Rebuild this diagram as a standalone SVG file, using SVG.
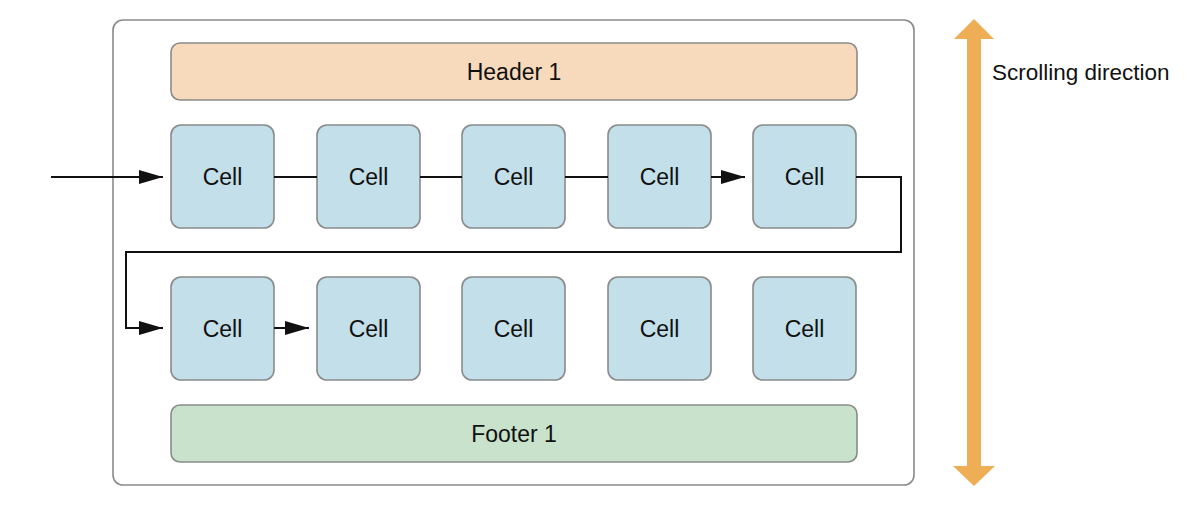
<svg xmlns="http://www.w3.org/2000/svg" width="1202" height="508" viewBox="0 0 1202 508">
<style>
.box{stroke:#8a8a8a;stroke-width:1.6}
.cell{fill:#c2dfea}
.t{font-family:"Liberation Sans",Arial,sans-serif;font-size:23px;fill:#111;text-anchor:middle;dominant-baseline:central}
.c{fill:none;stroke:#111;stroke-width:2}
</style>
<defs>
<marker id="ah" viewBox="0 0 24 14" refX="24" refY="7" markerWidth="24" markerHeight="14" markerUnits="userSpaceOnUse" orient="auto">
<path d="M0,0 L24,7 L0,14 Z" fill="#111"/>
</marker>
</defs>
<g id="container"><rect x="113" y="20" width="801" height="465" rx="10" fill="#fff" class="box" stroke-width="2"/></g>
<g id="header"><rect x="171" y="43" width="686" height="57" rx="9" fill="#f7d9bb" class="box"/><text class="t" x="514" y="72">Header 1</text></g>
<g id="footer"><rect x="171" y="405" width="686" height="57" rx="9" fill="#c8e2cb" class="box"/><text class="t" x="514" y="434">Footer 1</text></g>
<g id="cell1"><rect x="171" y="125" width="103" height="103" rx="10" class="cell box"/><text class="t" x="222.5" y="176.5">Cell</text></g>
<g id="cell2"><rect x="317" y="125" width="103" height="103" rx="10" class="cell box"/><text class="t" x="368.5" y="176.5">Cell</text></g>
<g id="cell3"><rect x="462" y="125" width="103" height="103" rx="10" class="cell box"/><text class="t" x="513.5" y="176.5">Cell</text></g>
<g id="cell4"><rect x="608" y="125" width="103" height="103" rx="10" class="cell box"/><text class="t" x="659.5" y="176.5">Cell</text></g>
<g id="cell5"><rect x="753" y="125" width="103" height="103" rx="10" class="cell box"/><text class="t" x="804.5" y="176.5">Cell</text></g>
<g id="cell6"><rect x="171" y="277" width="103" height="103" rx="10" class="cell box"/><text class="t" x="222.5" y="328.5">Cell</text></g>
<g id="cell7"><rect x="317" y="277" width="103" height="103" rx="10" class="cell box"/><text class="t" x="368.5" y="328.5">Cell</text></g>
<g id="cell8"><rect x="462" y="277" width="103" height="103" rx="10" class="cell box"/><text class="t" x="513.5" y="328.5">Cell</text></g>
<g id="cell9"><rect x="608" y="277" width="103" height="103" rx="10" class="cell box"/><text class="t" x="659.5" y="328.5">Cell</text></g>
<g id="cell10"><rect x="753" y="277" width="103" height="103" rx="10" class="cell box"/><text class="t" x="804.5" y="328.5">Cell</text></g>
<g id="connectors">
<path class="c" d="M51,177 H163" marker-end="url(#ah)"/>
<path class="c" d="M274,177 H317"/>
<path class="c" d="M420,177 H462"/>
<path class="c" d="M565,177 H608"/>
<path class="c" d="M711,177 H745" marker-end="url(#ah)"/>
<path class="c" d="M856,177 H901 V252 H126 V328 H163" marker-end="url(#ah)"/>
<path class="c" d="M274,328 H309" marker-end="url(#ah)"/>
</g>
<g id="scroll-arrow">
<path d="M974,19 L994,39 L981,39 L981,466 L995,466 L974,486 L953,466 L967,466 L967,39 L954,39 Z" fill="#edae55"/>
<text x="992" y="72" font-family="Liberation Sans, Arial, sans-serif" font-size="22.5" fill="#111" dominant-baseline="central">Scrolling direction</text>
</g>
</svg>
